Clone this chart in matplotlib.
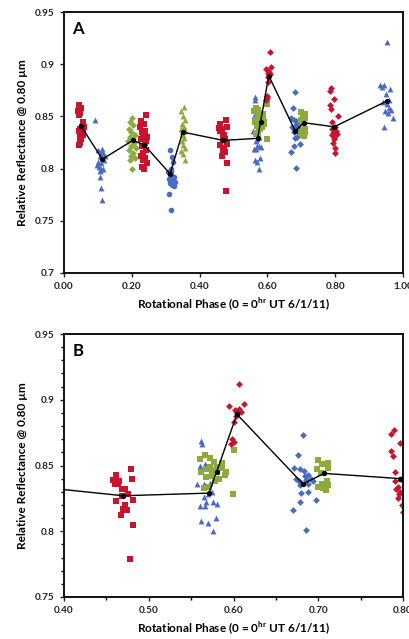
import matplotlib
matplotlib.use("Agg")
import matplotlib.pyplot as plt
from matplotlib.ticker import MultipleLocator, FormatStrFormatter

plt.rcParams['font.family'] = ['Lato', 'DejaVu Sans']

RED = '#C8142C'
BLUE = '#4A6CC0'
GREEN = '#8DAA3C'

# ---- data: per-observation-night clusters (phase, relative reflectance) ----
red_sq1_x = [0.045, 0.050, 0.042, 0.048, 0.043, 0.056, 0.058, 0.047, 0.044, 0.052, 0.055, 0.046, 0.050, 0.048, 0.045, 0.052, 0.057]
red_sq1_y = [0.861, 0.858, 0.855, 0.853, 0.851, 0.845, 0.840, 0.838, 0.836, 0.834, 0.832, 0.830, 0.828, 0.825, 0.823, 0.840, 0.835]

blue_tri1_x = [0.092, 0.100, 0.108, 0.115, 0.105, 0.112, 0.118, 0.100, 0.110, 0.103, 0.115, 0.108, 0.098, 0.120, 0.105, 0.110, 0.113, 0.107, 0.112]
blue_tri1_y = [0.847, 0.818, 0.816, 0.815, 0.812, 0.810, 0.808, 0.806, 0.805, 0.802, 0.800, 0.800, 0.803, 0.812, 0.792, 0.781, 0.770, 0.798, 0.819]

green_dia1_x = [0.200, 0.195, 0.205, 0.192, 0.198, 0.210, 0.195, 0.203, 0.190, 0.207, 0.198, 0.212, 0.193, 0.204, 0.199, 0.209, 0.196, 0.200]
green_dia1_y = [0.848, 0.845, 0.842, 0.838, 0.835, 0.832, 0.830, 0.828, 0.826, 0.825, 0.822, 0.820, 0.818, 0.815, 0.812, 0.810, 0.808, 0.800]

red_sq2_x = [0.241, 0.228, 0.236, 0.225, 0.240, 0.232, 0.244, 0.226, 0.238, 0.230, 0.242, 0.234, 0.227, 0.239, 0.233, 0.245, 0.229, 0.236, 0.231, 0.243]
red_sq2_y = [0.851, 0.846, 0.843, 0.840, 0.836, 0.833, 0.830, 0.828, 0.825, 0.822, 0.818, 0.815, 0.812, 0.810, 0.808, 0.805, 0.802, 0.800, 0.835, 0.826]

blue_circ_x = [0.312, 0.318, 0.322, 0.316, 0.308, 0.312, 0.318, 0.325, 0.310, 0.315, 0.322, 0.328, 0.313, 0.319, 0.325, 0.309, 0.315, 0.320, 0.317]
blue_circ_y = [0.818, 0.811, 0.806, 0.800, 0.797, 0.795, 0.793, 0.792, 0.790, 0.789, 0.788, 0.787, 0.786, 0.784, 0.783, 0.776, 0.760, 0.792, 0.798]

green_tri1_x = [0.355, 0.345, 0.350, 0.357, 0.348, 0.353, 0.345, 0.358, 0.350, 0.355, 0.347, 0.352, 0.357, 0.346, 0.352, 0.356, 0.349]
green_tri1_y = [0.859, 0.855, 0.850, 0.847, 0.843, 0.840, 0.838, 0.836, 0.832, 0.829, 0.826, 0.823, 0.820, 0.817, 0.814, 0.808, 0.835]

red_sq3_x = [0.458, 0.461, 0.464, 0.460, 0.479, 0.480, 0.469, 0.472, 0.469, 0.461, 0.481, 0.472, 0.470, 0.474, 0.467, 0.481, 0.478, 0.465, 0.476]
red_sq3_y = [0.839, 0.843, 0.836, 0.836, 0.847, 0.840, 0.832, 0.832, 0.827, 0.823, 0.824, 0.820, 0.817, 0.816, 0.812, 0.805, 0.779, 0.838, 0.828]

blue_tri2_x = [0.562, 0.563, 0.560, 0.566, 0.557, 0.565, 0.572, 0.578, 0.565, 0.570, 0.568, 0.560, 0.566, 0.576, 0.580, 0.562, 0.570, 0.579, 0.576, 0.575]
blue_tri2_y = [0.869, 0.866, 0.850, 0.851, 0.836, 0.836, 0.837, 0.850, 0.826, 0.828, 0.822, 0.819, 0.819, 0.822, 0.821, 0.808, 0.806, 0.810, 0.800, 0.830]

green_sq1_x = [0.560, 0.566, 0.572, 0.577, 0.572, 0.580, 0.586, 0.562, 0.567, 0.575, 0.580, 0.586, 0.591, 0.565, 0.571, 0.575, 0.583, 0.599, 0.587, 0.600, 0.590, 0.578, 0.568]
green_sq1_y = [0.855, 0.858, 0.856, 0.853, 0.849, 0.849, 0.848, 0.845, 0.847, 0.846, 0.845, 0.848, 0.845, 0.833, 0.834, 0.842, 0.840, 0.828, 0.852, 0.862, 0.843, 0.838, 0.841]

red_dia1_x = [0.607, 0.595, 0.602, 0.606, 0.609, 0.612, 0.604, 0.601, 0.598, 0.600, 0.597, 0.603]
red_dia1_y = [0.912, 0.895, 0.892, 0.893, 0.891, 0.897, 0.890, 0.883, 0.870, 0.868, 0.866, 0.888]

blue_dia_x = [0.682, 0.676, 0.671, 0.678, 0.683, 0.688, 0.674, 0.677, 0.680, 0.686, 0.691, 0.679, 0.688, 0.694, 0.680, 0.688, 0.697, 0.679, 0.670, 0.685, 0.684]
blue_dia_y = [0.873, 0.858, 0.848, 0.847, 0.846, 0.843, 0.840, 0.838, 0.837, 0.839, 0.840, 0.835, 0.836, 0.838, 0.829, 0.830, 0.824, 0.822, 0.816, 0.801, 0.842]

green_sq2_x = [0.700, 0.705, 0.712, 0.711, 0.699, 0.703, 0.710, 0.705, 0.712, 0.706, 0.700, 0.709]
green_sq2_y = [0.854, 0.851, 0.852, 0.848, 0.847, 0.844, 0.838, 0.836, 0.835, 0.833, 0.834, 0.831]

red_dia2_x = [0.786, 0.789, 0.796, 0.786, 0.788, 0.809, 0.791, 0.794, 0.792, 0.797, 0.794, 0.800, 0.803, 0.798, 0.790, 0.795, 0.805, 0.799]
red_dia2_y = [0.874, 0.877, 0.867, 0.861, 0.857, 0.850, 0.845, 0.834, 0.832, 0.830, 0.825, 0.815, 0.836, 0.840, 0.838, 0.828, 0.833, 0.820]

blue_tri3_x = [0.954, 0.932, 0.944, 0.938, 0.962, 0.950, 0.942, 0.960, 0.948, 0.956, 0.971, 0.966, 0.944, 0.952, 0.958]
blue_tri3_y = [0.921, 0.880, 0.880, 0.878, 0.876, 0.871, 0.864, 0.858, 0.855, 0.853, 0.848, 0.856, 0.840, 0.862, 0.866]

# mean curve
mean_x = [0.050, 0.113, 0.203, 0.236, 0.313, 0.350, 0.470, 0.571, 0.580, 0.604, 0.682, 0.707, 0.797, 0.954]
mean_y = [0.841, 0.809, 0.827, 0.823, 0.795, 0.835, 0.827, 0.829, 0.845, 0.889, 0.836, 0.844, 0.840, 0.865]

series = [
    (red_sq1_x, red_sq1_y, RED, 's', 16),
    (blue_tri1_x, blue_tri1_y, BLUE, '^', 18),
    (green_dia1_x, green_dia1_y, GREEN, 'D', 12),
    (red_sq2_x, red_sq2_y, RED, 's', 16),
    (blue_circ_x, blue_circ_y, BLUE, 'o', 16),
    (green_tri1_x, green_tri1_y, GREEN, '^', 18),
    (red_sq3_x, red_sq3_y, RED, 's', 16),
    (blue_tri2_x, blue_tri2_y, BLUE, '^', 18),
    (green_sq1_x, green_sq1_y, GREEN, 's', 16),
    (red_dia1_x, red_dia1_y, RED, 'D', 12),
    (blue_dia_x, blue_dia_y, BLUE, 'D', 12),
    (green_sq2_x, green_sq2_y, GREEN, 's', 16),
    (red_dia2_x, red_dia2_y, RED, 'D', 12),
    (blue_tri3_x, blue_tri3_y, BLUE, '^', 18),
]

fig = plt.figure(figsize=(4.09, 6.39), dpi=100)
axA = fig.add_axes([64/409, 1-273/639, 339/409, 261/639])
axB = fig.add_axes([64/409, 1-597/639, 339/409, 263/639])

def draw(ax):
    for xs, ys, c, m, s in series:
        ax.scatter(xs, ys, s=s, c=c, marker=m, linewidths=0, zorder=2)
    ax.plot(mean_x, mean_y, color='black', lw=1.0, marker='o', ms=2.8, zorder=3)
    for sp in ax.spines.values():
        sp.set_linewidth(1.4)
        sp.set_color('#111111')
    ax.tick_params(labelsize=7.2, colors='#222222', length=3, width=1, direction='out')
    for lab in ax.get_xticklabels() + ax.get_yticklabels():
        lab.set_fontweight('bold')
    ax.set_ylabel('Relative Reflectance @ 0.80 µm', fontsize=8.5, fontweight='bold', labelpad=5)
    ax.set_xlabel('Rotational Phase (0 = 0$^{\\mathregular{hr}}$ UT 6/1/11)', fontsize=8.5, fontweight='bold', labelpad=3)

# Panel A
axA.set_xlim(0, 1.0)
axA.set_ylim(0.7, 0.95)
axA.xaxis.set_major_locator(MultipleLocator(0.2))
axA.xaxis.set_major_formatter(FormatStrFormatter('%.2f'))
axA.set_yticks([0.7, 0.75, 0.8, 0.85, 0.9, 0.95])
axA.set_yticklabels(['0.7', '0.75', '0.8', '0.85', '0.9', '0.95'])
draw(axA)
axA.text(0.025, 0.965, 'A', transform=axA.transAxes, fontsize=12, fontweight='bold', va='top', ha='left')

# Panel B
axB.set_xlim(0.4, 0.8)
axB.set_ylim(0.75, 0.95)
axB.xaxis.set_major_locator(MultipleLocator(0.1))
axB.xaxis.set_minor_locator(MultipleLocator(0.05))
axB.yaxis.set_minor_locator(MultipleLocator(0.01))
axB.xaxis.set_major_formatter(FormatStrFormatter('%.2f'))
axB.set_yticks([0.75, 0.8, 0.85, 0.9, 0.95])
axB.set_yticklabels(['0.75', '0.8', '0.85', '0.9', '0.95'])
draw(axB)
axB.tick_params(which='minor', length=2, width=1, direction='out')
axB.text(0.025, 0.965, 'B', transform=axB.transAxes, fontsize=12, fontweight='bold', va='top', ha='left')

fig.savefig('out.png', dpi=100)
